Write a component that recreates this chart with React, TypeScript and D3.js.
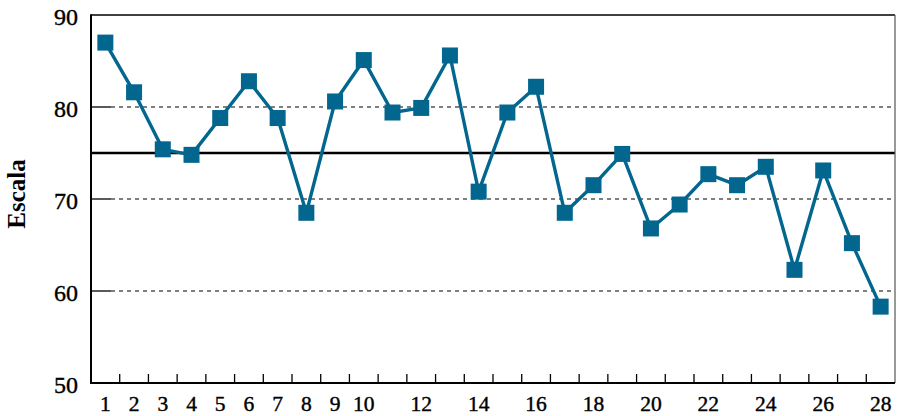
import React from "react";
import * as d3 from "d3";

const categories: number[] = Array.from({ length: 28 }, (_, i) => i + 1);
const values: number[] = [
  87, 81.6, 75.4, 74.8, 78.8, 82.8, 78.8, 68.5, 80.6, 85.1,
  79.4, 79.9, 85.6, 70.8, 79.4, 82.2, 68.5, 71.5, 74.9, 66.8,
  69.4, 72.7, 71.5, 73.5, 62.3, 73.1, 65.2, 58.3,
];
const xTickLabels: number[] = [1, 2, 3, 4, 5, 6, 7, 8, 9, 10, 12, 14, 16, 18, 20, 22, 24, 26, 28];
const yTicks: number[] = [50, 60, 70, 80, 90];
const gridValues: number[] = [60, 70, 80];
const meanValue = 75;
const yLabel = "Escala";

const W = 899;
const H = 416;
const M = { left: 91, right: 4, top: 15, bottom: 33 };
const COLOR = "#02668e";
const FONT = "Liberation Serif, Times New Roman, serif";

export default function App() {
  const x = d3
    .scaleBand<number>()
    .domain(categories)
    .range([M.left, W - M.right])
    .paddingInner(0)
    .paddingOuter(0);
  const y = d3.scaleLinear().domain([50, 90]).range([H - M.bottom, M.top]);
  const cx = (c: number) => (x(c) as number) + x.bandwidth() / 2;
  const line = d3
    .line<number>()
    .x((_, i) => cx(categories[i]))
    .y((d) => y(d));
  const x0 = M.left;
  const x1 = W - M.right;
  const yB = y(50);
  const yT = y(90);
  const ms = 16;

  return (
    <svg
      width={W}
      height={H}
      style={{ position: "absolute", left: 0, top: 0, background: "#fff", fontFamily: FONT }}
    >
      {gridValues.map((g) => (
        <g key={g}>
          <line x1={x0} x2={x0 + 20} y1={y(g)} y2={y(g)} stroke="#000" strokeWidth={1.3} />
          <line
            x1={x0 + 20}
            x2={x1}
            y1={y(g)}
            y2={y(g)}
            stroke="#000"
            strokeWidth={1.1}
            strokeDasharray="4,4"
          />
        </g>
      ))}
      <line x1={x0} x2={x1} y1={y(meanValue)} y2={y(meanValue)} stroke="#000" strokeWidth={2.6} />
      <line x1={x0} x2={x1} y1={yT} y2={yT} stroke="#000" strokeWidth={1.5} />
      <line x1={x1} x2={x1} y1={yT} y2={yB} stroke="#555" strokeWidth={1.2} />
      <line x1={x0} x2={x0} y1={yT - 0.75} y2={yB + 1} stroke="#000" strokeWidth={2} />
      <line x1={x0} x2={x1} y1={yB} y2={yB} stroke="#000" strokeWidth={2} />
      {categories.slice(1).map((c) => (
        <line
          key={c}
          x1={x(c) as number}
          x2={x(c) as number}
          y1={yB}
          y2={yB - 9}
          stroke="#000"
          strokeWidth={1.3}
        />
      ))}
      {yTicks.map((t) => (
        <text
          key={t}
          x={x0 - 13}
          y={y(t) + 10}
          textAnchor="end"
          fontSize={24}
          fill="#000"
          stroke="#000"
          strokeWidth={0.4}
        >
          {t}
        </text>
      ))}
      {xTickLabels.map((t) => (
        <text
          key={t}
          x={cx(t)}
          y={410.5}
          textAnchor="middle"
          fontSize={21.5}
          fill="#000"
          stroke="#000"
          strokeWidth={0.4}
        >
          {t}
        </text>
      ))}
      <text
        transform={`translate(25, 194) rotate(-90)`}
        textAnchor="middle"
        fontSize={25}
        fontWeight="bold"
        fill="#000"
      >
        {yLabel}
      </text>
      <path d={line(values) || ""} fill="none" stroke={COLOR} strokeWidth={3.4} strokeLinejoin="round" />
      {values.map((v, i) => (
        <rect
          key={i}
          x={cx(categories[i]) - ms / 2}
          y={y(v) - ms / 2}
          width={ms}
          height={ms}
          fill={COLOR}
        />
      ))}
    </svg>
  );
}
